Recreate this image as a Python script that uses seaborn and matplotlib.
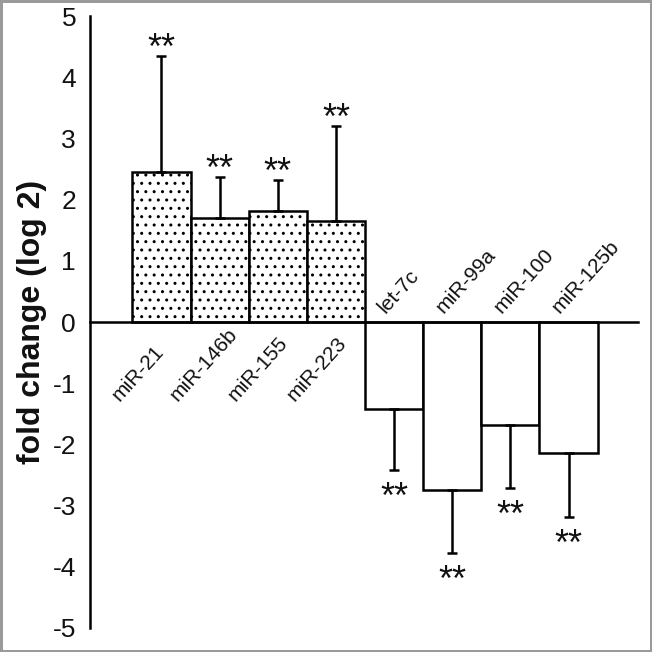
import seaborn as sns
import matplotlib.pyplot as plt
import pandas as pd
import numpy as np

# values
mirnas = ['miR-21', 'miR-146b', 'miR-155', 'miR-223',
          'let-7c', 'miR-99a', 'miR-100', 'miR-125b']
fold_change = [2.45, 1.70, 1.82, 1.65, -1.42, -2.75, -1.69, -2.14]
sd = [1.90, 0.67, 0.51, 1.55, 1.00, 1.02, 1.03, 1.04]
stars = ['**'] * 8
yticks = [5, 4, 3, 2, 1, 0, -1, -2, -3, -4, -5]


def plot_data(df):
    sns.set_style("white")
    plt.rcParams['font.family'] = ['Liberation Sans', 'DejaVu Sans']

    fig = plt.figure(figsize=(6.52, 6.52), dpi=100,
                     linewidth=2.5, edgecolor='#9a9a9a')
    ax = fig.add_axes([0.138, 0.037, 0.841, 0.938])

    sns.barplot(data=df, x='mirna', y='fc', color='white', edgecolor='black',
                linewidth=1.8, width=1.0, errorbar=None, saturation=1, ax=ax)

    # dotted fill on the up-regulated bars
    for p in ax.patches:
        p.set_facecolor('white')
        if p.get_height() > 0:
            p.set_hatch('..')

    # one-sided error bars (away from zero)
    up = np.where(df['fc'] > 0, df['sd'], 0)
    down = np.where(df['fc'] < 0, df['sd'], 0)
    ax.errorbar(np.arange(len(df)), df['fc'], yerr=[down, up], fmt='none',
                ecolor='black', elinewidth=1.8, capsize=3.8, capthick=1.8)

    # significance marks (asterisk glyphs sit high above the baseline)
    for i, row in df.iterrows():
        if row['fc'] > 0:
            y = row['fc'] + row['sd'] - 0.05
        else:
            y = row['fc'] - row['sd'] - 0.62
        ax.text(i, y, row['star'], ha='center', va='baseline', fontsize=26,
                color='#111111')

    # category labels: below the axis for positive bars, above for negative
    for i, row in df.iterrows():
        if row['fc'] > 0:
            ax.text(i - 0.72, -1.3, row['mirna'], rotation=48, ha='left',
                    va='baseline', rotation_mode='anchor', fontsize=15,
                    color='#111111')
        else:
            ax.text(i - 0.15, 0.14, row['mirna'], rotation=48, ha='left',
                    va='baseline', rotation_mode='anchor', fontsize=15,
                    color='#111111')

    ax.set_xlim(-1.23, 8.2)
    ax.set_ylim(-5, 5)
    ax.set_yticks(yticks)
    ax.set_yticklabels([str(t) for t in yticks], fontsize=19)
    ax.set_xticks([8.2])
    ax.set_xticklabels([''])
    ax.tick_params(axis='x', direction='out', length=8, width=1.8, color='black')
    ax.tick_params(axis='y', direction='out', length=6, width=1.8,
                   color='black', pad=4, labelcolor='#111111')

    ax.spines['bottom'].set_position(('data', 0))
    ax.spines['bottom'].set_linewidth(1.8)
    ax.spines['left'].set_linewidth(1.8)
    ax.spines['left'].set_color('black')
    ax.spines['bottom'].set_color('black')
    ax.spines['top'].set_visible(False)
    ax.spines['right'].set_visible(False)
    ax.patch.set_alpha(0)

    ax.set_xlabel('')
    ax.set_ylabel('fold change (log 2)', fontsize=23, fontweight='bold',
                  labelpad=4, color='#111111')

    fig.savefig('out.png', dpi=100, edgecolor=fig.get_edgecolor())


def main():
    df = pd.DataFrame({'mirna': mirnas, 'fc': fold_change, 'sd': sd,
                       'star': stars})
    plot_data(df)


if __name__ == "__main__":
    main()
